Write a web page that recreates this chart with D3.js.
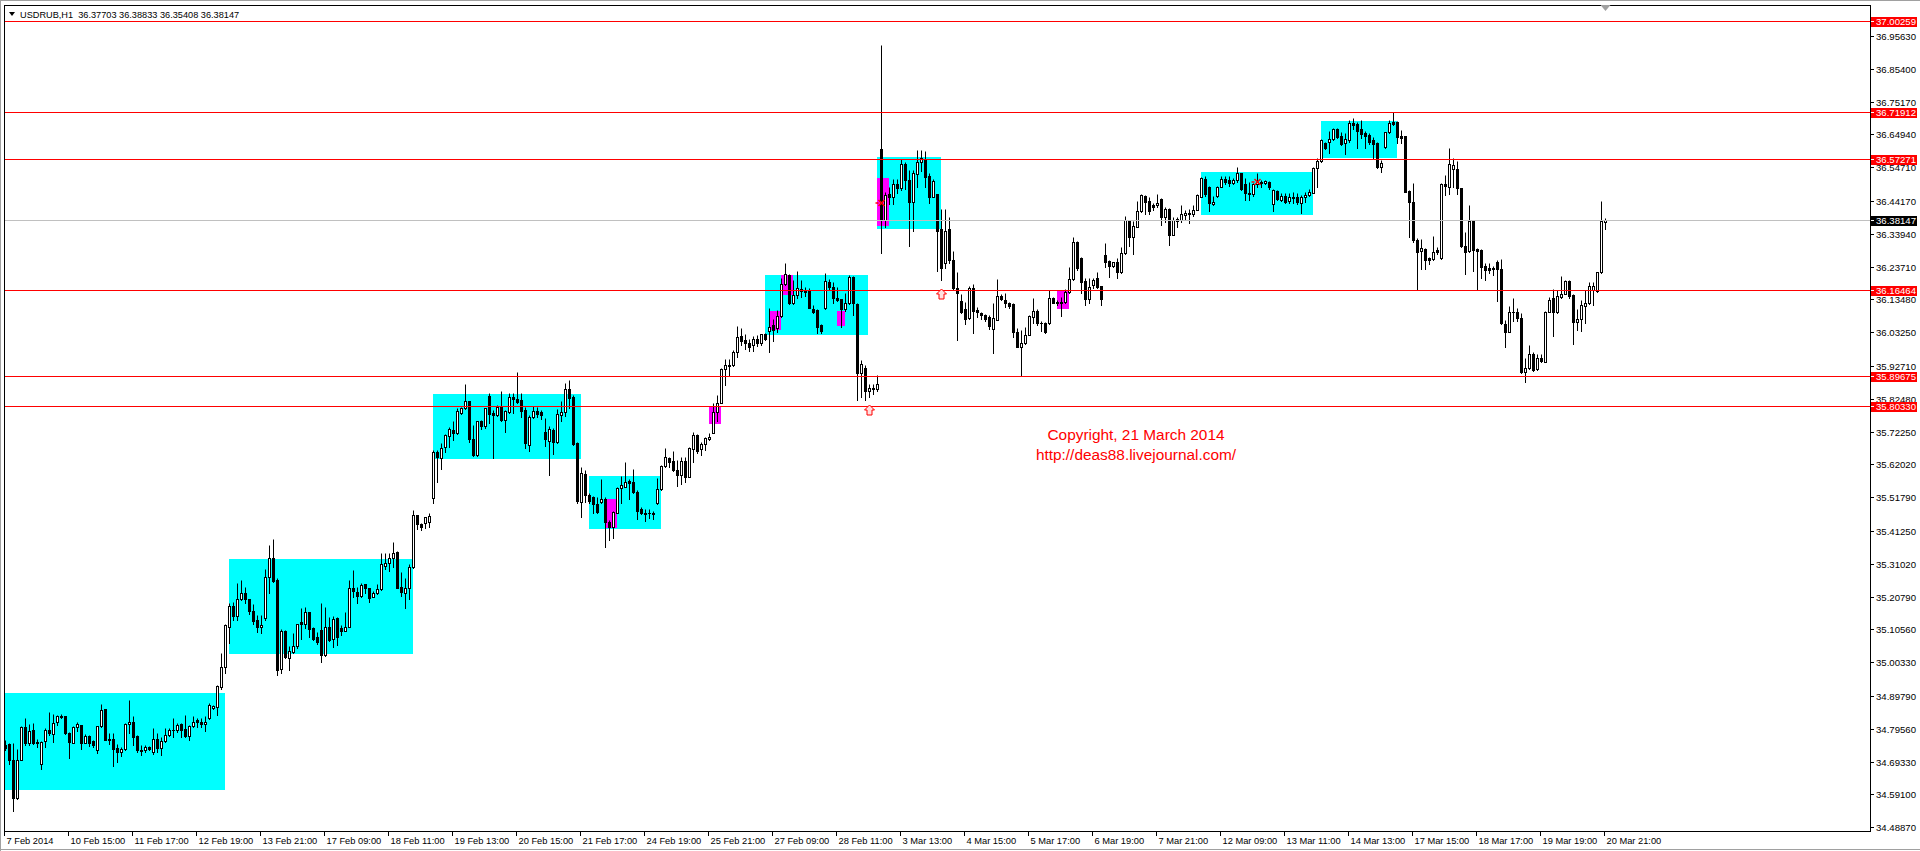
<!DOCTYPE html>
<html><head><meta charset="utf-8">
<script src="https://cdn.jsdelivr.net/npm/d3@7"></script>
<style>html,body{margin:0;padding:0;background:#fff;overflow:hidden}</style>
</head><body>
<svg id="c" width="1920" height="851"></svg>
<script>
// ---------------- DATA ----------------
const symbol = "USDRUB,H1";
const openP = [
34.745,34.748,34.698,34.581,34.700,34.800,34.750,34.793,34.750,34.685,
34.758,34.791,34.781,34.817,34.833,34.835,34.783,34.753,34.802,34.807,
34.752,34.773,34.757,34.731,34.804,34.857,34.765,34.765,34.735,34.725,
34.733,34.812,34.816,34.773,34.731,34.731,34.738,34.724,34.765,34.737,
34.758,34.776,34.791,34.791,34.811,34.795,34.774,34.804,34.822,34.816,
34.811,34.828,34.862,34.864,34.927,34.987,35.112,35.180,35.148,35.202,
35.218,35.199,35.163,35.135,35.112,35.140,35.268,35.327,35.259,34.981,
35.100,35.017,35.036,35.053,35.129,35.124,35.159,35.109,35.081,35.105,
35.025,35.112,35.077,35.142,35.111,35.101,35.114,35.234,35.221,35.210,
35.246,35.234,35.208,35.220,35.231,35.304,35.312,35.329,35.347,35.237,
35.220,35.236,35.299,35.461,35.434,35.436,35.442,35.515,35.658,35.641,
35.673,35.709,35.728,35.719,35.782,35.795,35.818,35.699,35.649,35.756,
35.741,35.834,35.779,35.774,35.798,35.759,35.785,35.829,35.823,35.821,
35.790,35.681,35.767,35.787,35.784,35.721,35.693,35.727,35.691,35.773,
35.783,35.854,35.830,35.688,35.502,35.590,35.524,35.520,35.497,35.502,
35.511,35.441,35.426,35.470,35.548,35.551,35.568,35.565,35.534,35.480,
35.468,35.468,35.470,35.501,35.542,35.615,35.640,35.631,35.603,35.587,
35.631,35.582,35.667,35.712,35.667,35.683,35.698,35.719,35.785,35.813,
35.917,35.927,35.929,35.970,36.021,36.008,35.998,35.993,36.010,35.998,
36.027,36.037,36.055,36.045,36.083,36.183,36.211,36.122,36.148,36.166,
36.162,36.162,36.106,36.102,36.055,36.107,36.189,36.172,36.140,36.135,
36.104,36.122,36.204,36.119,35.904,35.920,35.850,35.860,35.855,36.604,
36.382,36.463,36.455,36.494,36.481,36.557,36.507,36.439,36.525,36.562,
36.571,36.519,36.455,36.462,36.354,36.247,36.353,36.257,36.169,36.130,
36.104,36.076,36.171,36.102,36.093,36.086,36.080,36.041,36.072,36.146,
36.133,36.122,36.120,36.034,35.987,36.000,36.025,36.081,36.100,36.062,
36.060,36.060,36.138,36.127,36.122,36.127,36.159,36.197,36.315,36.263,
36.192,36.135,36.179,36.200,36.176,36.273,36.254,36.240,36.250,36.220,
36.278,36.380,36.330,36.361,36.411,36.457,36.443,36.429,36.428,36.449,
36.391,36.418,36.337,36.379,36.382,36.399,36.401,36.400,36.415,36.455,
36.509,36.484,36.431,36.458,36.486,36.509,36.507,36.499,36.507,36.528,
36.494,36.468,36.462,36.494,36.502,36.499,36.502,36.431,36.474,36.445,
36.457,36.441,36.453,36.453,36.434,36.453,36.460,36.468,36.543,36.566,
36.623,36.627,36.634,36.665,36.644,36.623,36.632,36.684,36.682,36.665,
36.655,36.647,36.632,36.621,36.546,36.611,36.656,36.687,36.689,36.644,
36.644,36.473,36.437,36.320,36.285,36.292,36.265,36.261,36.289,36.263,
36.494,36.486,36.540,36.540,36.481,36.302,36.285,36.379,36.292,36.289,
36.239,36.233,36.234,36.250,36.231,36.058,36.034,36.096,36.096,36.076,
35.909,35.920,35.963,35.917,35.953,35.940,36.096,36.140,36.094,36.143,
36.153,36.192,36.148,36.063,36.075,36.115,36.122,36.164,36.161,36.219,
36.37703];
const highP = [
34.762,34.752,34.750,34.734,34.804,34.831,34.810,34.814,34.765,34.758,
34.797,34.847,34.843,34.840,34.841,34.836,34.786,34.804,34.817,34.809,
34.781,34.778,34.762,34.806,34.873,34.857,34.783,34.783,34.748,34.739,
34.814,34.885,34.835,34.775,34.745,34.745,34.743,34.798,34.783,34.771,
34.799,34.797,34.828,34.814,34.814,34.838,34.807,34.836,34.830,34.830,
34.837,34.877,34.870,34.932,35.031,35.122,35.189,35.192,35.251,35.261,
35.237,35.202,35.185,35.150,35.150,35.293,35.369,35.387,35.265,35.106,
35.103,35.053,35.093,35.124,35.174,35.176,35.161,35.114,35.098,35.189,
35.176,35.145,35.147,35.145,35.119,35.159,35.260,35.291,35.237,35.249,
35.247,35.235,35.227,35.247,35.345,35.343,35.343,35.377,35.350,35.284,
35.265,35.310,35.478,35.462,35.438,35.457,35.470,35.665,35.665,35.686,
35.715,35.736,35.756,35.795,35.800,35.871,35.819,35.743,35.757,35.759,
35.797,35.842,35.790,35.806,35.849,35.790,35.842,35.842,35.908,35.842,
35.800,35.774,35.803,35.798,35.790,35.766,35.740,35.733,35.792,35.817,
35.873,35.883,35.837,35.691,35.613,35.603,35.530,35.522,35.518,35.575,
35.518,35.447,35.476,35.551,35.584,35.629,35.575,35.606,35.540,35.488,
35.480,35.480,35.476,35.579,35.617,35.670,35.644,35.662,35.634,35.644,
35.644,35.676,35.722,35.715,35.691,35.705,35.719,35.813,35.837,35.920,
35.948,35.948,35.977,36.052,36.045,36.027,36.010,36.021,36.024,36.028,
36.029,36.107,36.073,36.102,36.200,36.247,36.213,36.195,36.223,36.195,
36.174,36.169,36.117,36.104,36.058,36.216,36.197,36.190,36.172,36.137,
36.154,36.211,36.208,36.122,35.947,35.930,35.870,35.870,35.900,36.928,
36.471,36.486,36.509,36.509,36.571,36.564,36.538,36.538,36.601,36.601,
36.597,36.528,36.509,36.463,36.416,36.416,36.391,36.286,36.219,36.153,
36.128,36.177,36.182,36.112,36.096,36.089,36.085,36.125,36.197,36.153,
36.156,36.127,36.122,36.044,36.039,36.049,36.086,36.140,36.104,36.067,
36.065,36.164,36.143,36.133,36.143,36.166,36.237,36.328,36.318,36.266,
36.200,36.200,36.200,36.219,36.177,36.312,36.257,36.252,36.264,36.299,
36.395,36.382,36.380,36.443,36.463,36.460,36.455,36.436,36.463,36.451,
36.424,36.421,36.393,36.391,36.429,36.413,36.416,36.429,36.462,36.517,
36.520,36.488,36.457,36.488,36.520,36.520,36.520,36.514,36.546,36.530,
36.512,36.502,36.499,36.530,36.507,36.507,36.503,36.478,36.476,36.468,
36.465,36.465,36.471,36.465,36.460,36.471,36.478,36.547,36.575,36.634,
36.627,36.661,36.668,36.668,36.658,36.653,36.694,36.699,36.689,36.694,
36.660,36.653,36.642,36.625,36.570,36.658,36.694,36.720,36.691,36.663,
36.645,36.476,36.497,36.327,36.323,36.296,36.268,36.332,36.299,36.497,
36.523,36.606,36.575,36.566,36.483,36.346,36.429,36.382,36.296,36.292,
36.247,36.247,36.240,36.257,36.260,36.070,36.115,36.140,36.109,36.091,
35.951,35.992,35.972,35.966,35.966,36.098,36.143,36.167,36.164,36.208,
36.195,36.195,36.153,36.105,36.133,36.164,36.190,36.188,36.221,36.442,
36.38833];
const lowP = [
34.729,34.687,34.540,34.578,34.698,34.745,34.745,34.748,34.739,34.671,
34.739,34.778,34.755,34.807,34.831,34.781,34.705,34.750,34.789,34.734,
34.750,34.741,34.739,34.721,34.802,34.760,34.748,34.681,34.692,34.711,
34.731,34.783,34.745,34.725,34.714,34.725,34.729,34.717,34.723,34.714,
34.755,34.773,34.771,34.786,34.771,34.771,34.760,34.800,34.802,34.802,
34.789,34.825,34.859,34.838,34.921,34.970,35.064,35.135,35.135,35.197,
35.187,35.155,35.124,35.098,35.095,35.135,35.220,35.254,34.963,34.969,
35.017,34.979,35.031,35.049,35.077,35.109,35.081,35.072,35.060,35.004,
35.022,35.070,35.051,35.057,35.088,35.101,35.112,35.206,35.189,35.208,
35.218,35.192,35.206,35.215,35.229,35.294,35.289,35.301,35.235,35.210,
35.172,35.199,35.297,35.419,35.416,35.423,35.426,35.501,35.566,35.605,
35.660,35.673,35.696,35.715,35.777,35.793,35.691,35.646,35.646,35.730,
35.735,35.748,35.641,35.771,35.756,35.722,35.782,35.782,35.811,35.769,
35.672,35.662,35.764,35.769,35.761,35.679,35.587,35.653,35.686,35.757,
35.772,35.795,35.681,35.499,35.455,35.503,35.501,35.468,35.468,35.499,
35.362,35.385,35.390,35.468,35.501,35.549,35.512,35.532,35.450,35.466,
35.445,35.454,35.451,35.497,35.540,35.611,35.611,35.601,35.554,35.558,
35.566,35.580,35.629,35.655,35.650,35.665,35.696,35.717,35.754,35.811,
35.868,35.898,35.927,35.956,35.993,35.979,35.975,35.975,35.989,35.993,
36.008,35.972,36.006,36.034,36.081,36.180,36.120,36.120,36.138,36.143,
36.145,36.107,36.091,36.029,36.031,36.104,36.164,36.122,36.131,36.048,
36.100,36.120,36.086,35.820,35.830,35.820,35.830,35.840,35.850,36.278,
36.359,36.432,36.432,36.467,36.476,36.479,36.302,36.349,36.486,36.536,
36.486,36.436,36.453,36.224,36.195,36.232,36.249,36.166,36.008,36.093,
36.058,36.073,36.031,36.079,36.075,36.067,36.041,35.969,36.070,36.133,
36.112,36.107,36.018,35.985,35.898,35.997,36.023,36.062,36.054,36.037,
36.029,36.057,36.122,36.117,36.083,36.124,36.156,36.195,36.226,36.156,
36.118,36.122,36.169,36.169,36.118,36.237,36.205,36.237,36.202,36.218,
36.276,36.301,36.276,36.359,36.408,36.401,36.401,36.415,36.422,36.367,
36.377,36.305,36.335,36.361,36.377,36.382,36.372,36.396,36.413,36.453,
36.457,36.411,36.429,36.453,36.484,36.494,36.488,36.494,36.502,36.476,
36.445,36.445,36.458,36.486,36.486,36.494,36.478,36.411,36.445,36.443,
36.436,36.434,36.436,36.432,36.405,36.439,36.457,36.465,36.486,36.564,
36.603,36.590,36.632,36.637,36.616,36.587,36.627,36.666,36.608,36.637,
36.608,36.618,36.573,36.544,36.533,36.608,36.653,36.679,36.621,36.621,
36.469,36.330,36.315,36.166,36.231,36.229,36.244,36.257,36.275,36.261,
36.460,36.462,36.486,36.462,36.299,36.213,36.283,36.224,36.166,36.200,
36.195,36.216,36.211,36.130,36.058,35.987,36.032,36.067,36.067,35.904,
35.878,35.917,35.911,35.914,35.940,35.938,36.094,36.021,36.091,36.140,
36.150,36.140,35.997,36.039,36.036,36.060,36.119,36.117,36.159,36.216,
36.35408];
const closeP = [
34.737,34.700,34.581,34.698,34.800,34.750,34.789,34.752,34.756,34.756,
34.793,34.783,34.815,34.835,34.835,34.783,34.755,34.802,34.810,34.750,
34.773,34.752,34.746,34.804,34.853,34.762,34.760,34.733,34.725,34.734,
34.812,34.818,34.771,34.729,34.727,34.739,34.733,34.765,34.737,34.757,
34.775,34.793,34.793,34.809,34.791,34.774,34.804,34.818,34.817,34.810,
34.818,34.869,34.866,34.929,34.987,35.118,35.180,35.148,35.202,35.218,
35.202,35.164,35.133,35.112,35.118,35.268,35.327,35.257,34.979,35.101,
35.020,35.038,35.053,35.122,35.122,35.159,35.107,35.077,35.067,35.025,
35.112,35.074,35.137,35.081,35.101,35.112,35.234,35.227,35.210,35.243,
35.234,35.205,35.218,35.231,35.309,35.312,35.327,35.343,35.236,35.223,
35.234,35.299,35.461,35.433,35.426,35.455,35.459,35.658,35.644,35.670,
35.711,35.730,35.719,35.787,35.795,35.818,35.699,35.649,35.755,35.741,
35.795,35.777,35.774,35.798,35.759,35.787,35.829,35.823,35.815,35.788,
35.686,35.769,35.787,35.776,35.774,35.700,35.730,35.691,35.777,35.783,
35.854,35.826,35.684,35.507,35.592,35.524,35.507,35.497,35.473,35.511,
35.441,35.426,35.473,35.548,35.555,35.565,35.561,35.535,35.476,35.468,
35.466,35.470,35.466,35.542,35.615,35.642,35.627,35.603,35.587,35.631,
35.582,35.670,35.712,35.663,35.684,35.702,35.706,35.785,35.813,35.917,
35.929,35.929,35.970,36.016,36.006,36.000,35.987,36.010,35.998,36.027,
36.011,36.050,36.039,36.083,36.183,36.213,36.122,36.148,36.169,36.162,
36.158,36.109,36.096,36.050,36.037,36.191,36.172,36.138,36.133,36.104,
36.122,36.204,36.125,35.904,35.933,35.850,35.860,35.855,35.870,36.382,
36.460,36.455,36.496,36.481,36.557,36.507,36.439,36.528,36.562,36.575,
36.517,36.455,36.504,36.349,36.232,36.348,36.257,36.169,36.155,36.096,
36.074,36.171,36.100,36.094,36.086,36.075,36.051,36.076,36.145,36.135,
36.122,36.115,36.034,35.987,36.000,36.025,36.083,36.100,36.062,36.060,
36.034,36.138,36.125,36.122,36.127,36.159,36.197,36.315,36.232,36.190,
36.135,36.172,36.195,36.174,36.135,36.252,36.240,36.250,36.220,36.278,
36.382,36.330,36.363,36.411,36.460,36.439,36.411,36.424,36.434,36.391,
36.416,36.335,36.382,36.384,36.400,36.403,36.403,36.415,36.459,36.512,
36.463,36.434,36.437,36.486,36.509,36.502,36.497,36.507,36.528,36.478,
36.465,36.462,36.494,36.502,36.497,36.504,36.486,36.476,36.447,36.457,
36.439,36.453,36.450,36.439,36.453,36.460,36.471,36.543,36.566,36.632,
36.606,36.634,36.665,36.642,36.619,36.634,36.684,36.677,36.660,36.650,
36.645,36.627,36.618,36.546,36.559,36.656,36.684,36.681,36.640,36.639,
36.471,36.437,36.320,36.283,36.294,36.257,36.257,36.283,36.281,36.494,
36.489,36.556,36.554,36.481,36.302,36.283,36.379,36.289,36.287,36.237,
36.226,36.226,36.228,36.228,36.060,36.034,36.096,36.094,36.076,35.907,
35.920,35.963,35.914,35.953,35.943,36.096,36.133,36.094,36.145,36.153,
36.192,36.146,36.065,36.075,36.117,36.122,36.178,36.178,36.219,36.379,
36.38147];

// time-axis labels, one every 16 bars
const timeLabels = ["7 Feb 2014","10 Feb 15:00","11 Feb 17:00","12 Feb 19:00","13 Feb 21:00",
"17 Feb 09:00","18 Feb 11:00","19 Feb 13:00","20 Feb 15:00","21 Feb 17:00","24 Feb 19:00",
"25 Feb 21:00","27 Feb 09:00","28 Feb 11:00","3 Mar 13:00","4 Mar 15:00","5 Mar 17:00",
"6 Mar 19:00","7 Mar 21:00","12 Mar 09:00","13 Mar 11:00","14 Mar 13:00","17 Mar 15:00",
"18 Mar 17:00","19 Mar 19:00","20 Mar 21:00"];
const labelStep = 16;

// price-axis tick labels
const priceTicks = [36.95630,36.85400,36.75170,36.64940,36.54710,36.44170,36.33940,36.23710,
36.13480,36.03250,35.92710,35.82480,35.72250,35.62020,35.51790,35.41250,35.31020,35.20790,
35.10560,35.00330,34.89790,34.79560,34.69330,34.59100,34.48870];

// horizontal levels (red) and the bid line
const levelPrices = [37.00259,36.71912,36.57271,36.16464,35.89675,35.80330];
const bidPrice = 36.38147;

// zones: [from bar, to bar, upper price, lower price]
const cyanZones = [
 [-2,54.9,34.9084,34.6050],[55.9,101.8,35.3253,35.0291],[106.9,143.8,35.8398,35.6372],
 [145.9,163.8,35.584,35.420],[189.9,215.7,36.211,36.025],[217.9,233.8,36.578,36.354],
 [298.9,326.8,36.532,36.398],[328.9,347.8,36.691,36.575]];
const magentaZones = [
 [149.9,152.8,35.513,35.423],[175.9,178.8,35.8033,35.747],[190.9,193.8,36.099,36.039],
 [193.9,196.8,36.211,36.149],[207.9,209.9,36.100,36.053],[217.9,220.8,36.514,36.365],
 [262.9,265.8,36.161,36.104]];
// up-arrow signals: [bar, price of arrow tip]
const arrowSignals = [[216,35.806],[234,36.168]];
// small red cross marks: [bar, price]
const crossMarks = [[219,36.436],[313,36.502]];
const noteLines = ["Copyright, 21 March 2014","http://deas88.livejournal.com/"];

// ---------------- CHART ----------------
const FONT = "'Liberation Sans', Arial, sans-serif";
const P = {l:4, r:1870, t:5, b:831};
const svg = d3.select('#c');
const nBars = Math.min(openP.length, highP.length, lowP.length, closeP.length);
const bars = d3.range(nBars).map(i => ({i, o:openP[i], h:highP[i], l:lowP[i], c:closeP[i]}));

const x = d3.scaleLinear().domain([0, 400]).range([5.5, 1605.5]);
const y = d3.scaleLinear().domain([34.4887, 36.9563]).range([827.3, 35.9]);
const py = v => Math.round(y(v)) + 0.5;

svg.append('rect').attr('width',1920).attr('height',851).attr('fill','#fff');

svg.append('defs').append('clipPath').attr('id','pc').append('rect')
  .attr('x',P.l).attr('y',P.t).attr('width',P.r-P.l).attr('height',P.b-P.t);
const g = svg.append('g').attr('clip-path','url(#pc)');

function zoneRect(sel, color){
  sel.attr('x', d => Math.round(x(d[0])))
     .attr('width', d => Math.round(x(d[1])) - Math.round(x(d[0])))
     .attr('y', d => Math.round(y(d[2])))
     .attr('height', d => Math.round(y(d[3])) - Math.round(y(d[2])))
     .attr('fill', color);
}
g.append('g').selectAll('rect').data(cyanZones).join('rect').call(zoneRect,'#00FFFF');
g.append('g').selectAll('rect').data(magentaZones).join('rect').call(zoneRect,'#FF00FF');

// candles
const cg = g.append('g');
cg.selectAll('line.w').data(bars).join('line').attr('class','w')
  .attr('x1', d => x(d.i)).attr('x2', d => x(d.i))
  .attr('y1', d => py(d.h)).attr('y2', d => py(d.l) + 0.5)
  .attr('stroke','#000').attr('stroke-width',1);
cg.selectAll('rect.b').data(bars.filter(d => Math.abs(py(d.o)-py(d.c)) >= 1)).join('rect').attr('class','b')
  .attr('x', d => x(d.i) - 1)
  .attr('width', 2)
  .attr('y', d => Math.min(py(d.o), py(d.c)))
  .attr('height', d => Math.abs(py(d.o) - py(d.c)))
  .attr('fill', d => d.c > d.o ? '#fff' : '#000')
  .attr('stroke','#000').attr('stroke-width',1);
cg.selectAll('line.d').data(bars.filter(d => Math.abs(py(d.o)-py(d.c)) < 1)).join('line').attr('class','d')
  .attr('x1', d => x(d.i) - 1.5).attr('x2', d => x(d.i) + 1.5)
  .attr('y1', d => py(d.c)).attr('y2', d => py(d.c))
  .attr('stroke','#000').attr('stroke-width',1);

// levels
g.append('line').attr('x1',P.l).attr('x2',P.r).attr('y1',py(bidPrice)).attr('y2',py(bidPrice))
  .attr('stroke','#C0C0C0').attr('stroke-width',1);
g.append('g').selectAll('line').data(levelPrices).join('line')
  .attr('x1',P.l).attr('x2',P.r).attr('y1',d=>py(d)).attr('y2',d=>py(d))
  .attr('stroke','#FF0000').attr('stroke-width',1);

// arrows
g.append('g').selectAll('path').data(arrowSignals).join('path')
  .attr('transform', d => `translate(${x(d[0])},${Math.round(y(d[1]))})`)
  .attr('d','M0,0 L5,5 L2.5,5 L2.5,10 L-2.5,10 L-2.5,5 L-5,5 Z')
  .attr('fill','#FFE0E0').attr('stroke','#FF0000').attr('stroke-width',1);
// crosses
g.append('g').selectAll('path').data(crossMarks).join('path')
  .attr('transform', d => `translate(${x(d[0])},${Math.round(y(d[1]))})`)
  .attr('d','M-3,-3 L3,3 M-3,3 L3,-3 M-6,0 L-3,0')
  .attr('fill','none').attr('stroke','#FF0000').attr('stroke-width',1.5);

// note
svg.append('g').selectAll('text').data(noteLines).join('text')
  .attr('x',1136).attr('y',(d,i)=>440 + i*19.5)
  .attr('text-anchor','middle').attr('fill','#FF0000')
  .style('font-family',FONT).style('font-size','15.4px').text(d=>d);

// header
svg.append('path').attr('d','M9,12 L15,12 L12,16 Z').attr('fill','#000');
svg.append('text').attr('x',20).attr('y',17.5).style('font-family',FONT).style('font-size','9.2px')
  .style('white-space','pre')
  .text(symbol + '  ' + [openP[nBars-1],highP[nBars-1],lowP[nBars-1],closeP[nBars-1]].map(v=>v.toFixed(5)).join(' '));

// frame
svg.append('rect').attr('x',P.l+0.5).attr('y',P.t+0.5).attr('width',P.r-P.l).attr('height',P.b-P.t)
  .attr('fill','none').attr('stroke','#000');
// window borders
svg.append('line').attr('x1',0.5).attr('x2',0.5).attr('y1',0).attr('y2',851).attr('stroke','#A0A0A0');
svg.append('line').attr('x1',0).attr('x2',1920).attr('y1',0.5).attr('y2',0.5).attr('stroke','#A0A0A0');
svg.append('line').attr('x1',0).attr('x2',1920).attr('y1',849.5).attr('y2',849.5).attr('stroke','#A0A0A0');
// shift marker
svg.append('path').attr('d',`M${x(400)-5},5 L${x(400)+5},5 L${x(400)},11 Z`).attr('fill','#A0A0A0');

// price axis
const ax = svg.append('g');
ax.selectAll('line').data(priceTicks).join('line')
  .attr('x1',P.r+1).attr('x2',P.r+4).attr('y1',d=>py(d)).attr('y2',d=>py(d)).attr('stroke','#000');
ax.selectAll('text').data(priceTicks).join('text')
  .attr('x',P.r+6).attr('y',d=>py(d)+3.5)
  .style('font-family',FONT).style('font-size','9.6px').text(d=>d.toFixed(5));
const lab = svg.append('g');
const tags = levelPrices.map(p=>({p,col:'#FF0000'})).concat([{p:bidPrice,col:'#000'}]);
lab.selectAll('rect').data(tags).join('rect')
  .attr('x',P.r+1).attr('y',d=>Math.round(y(d.p))-4).attr('width',46).attr('height',10).attr('fill',d=>d.col);
lab.selectAll('line').data(tags).join('line')
  .attr('x1',P.r+1).attr('x2',P.r+4).attr('y1',d=>py(d.p)).attr('y2',d=>py(d.p)).attr('stroke','#fff');
lab.selectAll('text').data(tags).join('text')
  .attr('x',P.r+6).attr('y',d=>py(d.p)+3.5).attr('fill','#fff')
  .style('font-family',FONT).style('font-size','9.6px').text(d=>d.p.toFixed(5));

// time axis
const tx = svg.append('g');
const tdata = timeLabels.map((t,k)=>({t, b:k*labelStep}));
tx.selectAll('line').data(tdata).join('line')
  .attr('x1',d=>x(d.b)-1).attr('x2',d=>x(d.b)-1).attr('y1',P.b+1).attr('y2',P.b+5).attr('stroke','#000');
tx.selectAll('text').data(tdata).join('text')
  .attr('x',d=>x(d.b)+1).attr('y',844)
  .style('font-family',FONT).style('font-size','9.3px').text(d=>d.t);
</script>
</body></html>
